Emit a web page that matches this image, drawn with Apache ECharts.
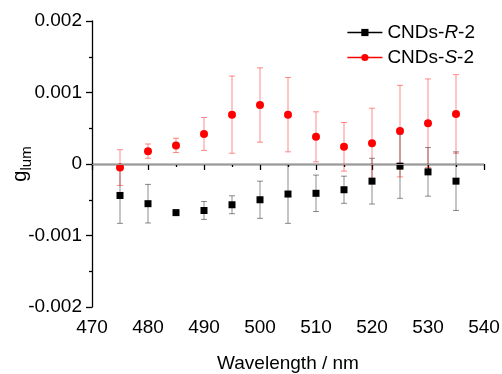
<!DOCTYPE html>
<html><head><meta charset="utf-8">
<script src="https://cdn.jsdelivr.net/npm/echarts@6/dist/echarts.min.js"></script>
<style>html,body{margin:0;padding:0;background:#fff}#c{width:502px;height:374px}</style>
</head><body><div id="c"></div>
<script>
const wavelengths = [475,480,485,490,495,500,505,510,515,520,525,530,535];
const rValues = [-0.00044,-0.000555,-0.00068,-0.00065,-0.00057,-0.0005,-0.00042,-0.00041,-0.00036,-0.00024,-0.00003,-0.00011,-0.00024];
const rErrors = [0.00039,0.00027,0.00003,0.000125,0.000125,0.00026,0.00041,0.000255,0.00019,0.00032,0.00045,0.00034,0.00041];
const sValues = [-0.00005,0.00018,0.00026,0.00042,0.00069,0.000825,0.00069,0.00038,0.00024,0.00029,0.00046,0.00057,0.0007];
const sErrors = [0.00025,0.0001,0.0001,0.00023,0.00054,0.00052,0.00052,0.00035,0.00034,0.00049,0.00064,0.00062,0.00055];
const xTicks = [470,480,490,500,510,520,530,540];
const yTicks = [-0.002,-0.001,0,0.001,0.002];
const seriesNames = ['CNDs-R-2','CNDs-S-2'];

const font = 'Liberation Sans, Arial, sans-serif';
function errData(vals, errs){ return wavelengths.map((w,i)=>[w, vals[i]-errs[i], vals[i]+errs[i]]); }
function errSeries(vals, errs, color){
  return {
    type:'custom', silent:true, z:1,
    data: errData(vals, errs),
    renderItem: function(params, api){
      const x = api.value(0);
      const lo = api.coord([x, api.value(1)]);
      const hi = api.coord([x, api.value(2)]);
      const cw = 3;
      const st = {stroke: color, lineWidth: 1};
      return {type:'group', children:[
        {type:'line', shape:{x1:lo[0],y1:lo[1],x2:hi[0],y2:hi[1]}, style:st},
        {type:'line', shape:{x1:lo[0]-cw,y1:lo[1],x2:lo[0]+cw,y2:lo[1]}, style:st},
        {type:'line', shape:{x1:hi[0]-cw,y1:hi[1],x2:hi[0]+cw,y2:hi[1]}, style:st}
      ]};
    }
  };
}
const chart = echarts.init(document.getElementById('c'));
chart.setOption({
  animation:false,
  backgroundColor:'#fff',
  grid:{left:92, right:18, top:21, bottom:67, containLabel:false, outerBoundsMode:'none'},
  legend:{
    orient:'vertical', right:22, top:18, itemGap:6, itemWidth:35, itemHeight:9,
    data:[
      {name:seriesNames[0], lineStyle:{opacity:1, width:1.5, color:'#000'}},
      {name:seriesNames[1], lineStyle:{opacity:1, width:1.5, color:'#ff0000'}}
    ],
    formatter: function(n){ const p = n.split('-'); return '{n|'+p[0]+'-}{i|'+p[1]+'}{n|-'+p[2]+'}'; },
    textStyle:{fontFamily:font, fontSize:19, color:'#000',
      rich:{n:{fontFamily:font, fontSize:19, color:'#000'}, i:{fontFamily:font, fontSize:19, fontStyle:'italic', color:'#000'}}}
  },
  xAxis:{
    type:'value', min:470, max:540, interval:10,
    name:'Wavelength / nm', nameLocation:'middle', nameGap:47, nameMoveOverlap:false,
    nameTextStyle:{fontFamily:font, fontSize:19, color:'#000'},
    axisLine:{lineStyle:{color:'#000', width:1.3}},
    axisTick:{length:6, lineStyle:{color:'#000', width:1.3}},
    minorTick:{show:true, splitNumber:2, length:3, lineStyle:{color:'#000', width:1.3}},
    splitLine:{show:false},
    axisLabel:{fontFamily:font, fontSize:19, color:'#000', margin:11}
  },
  yAxis:{
    type:'value', min:-0.002, max:0.002, interval:0.001,
    name:'{g|g}{s|lum}', nameLocation:'middle', nameGap:58, nameRotate:90, nameMoveOverlap:false,
    nameTextStyle:{fontFamily:font, color:'#000',
      rich:{g:{fontFamily:font, fontSize:20, color:'#000'}, s:{fontFamily:font, fontSize:15, color:'#000', padding:[12,0,0,0]}}},
    axisLine:{lineStyle:{color:'#000', width:1.3}},
    axisTick:{length:6, lineStyle:{color:'#000', width:1.3}},
    minorTick:{show:true, splitNumber:2, length:3, lineStyle:{color:'#000', width:1.3}},
    splitLine:{show:false},
    axisLabel:{fontFamily:font, fontSize:19, color:'#000', margin:10,
      formatter: v => Math.abs(v) < 1e-9 ? '0' : v.toFixed(3)}
  },
  series:[
    errSeries(rValues, rErrors, 'rgba(0,0,0,0.45)'),
    errSeries(sValues, sErrors, 'rgba(255,0,0,0.45)'),
    {name:seriesNames[0], type:'line', symbol:'rect', symbolSize:7, z:3,
     itemStyle:{color:'#000'}, lineStyle:{opacity:0},
     data: wavelengths.map((w,i)=>[w, rValues[i]]),
     markLine:{silent:true, symbol:'none', label:{show:false}, lineStyle:{color:'#999', width:1, type:'solid'}, data:[{yAxis:0}]}},
    {name:seriesNames[1], type:'line', symbol:'circle', symbolSize:8, z:4,
     itemStyle:{color:'#ff0000'}, lineStyle:{opacity:0},
     data: wavelengths.map((w,i)=>[w, sValues[i]])}
  ]
});
</script></body></html>
